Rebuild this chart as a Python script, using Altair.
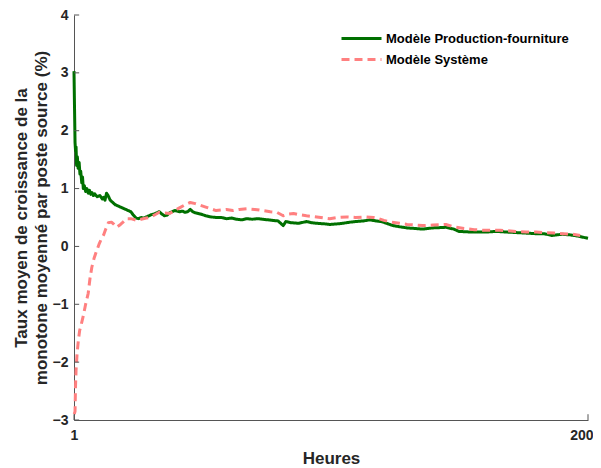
import altair as alt
import pandas as pd

series_names = ["Modèle Production-fourniture", "Modèle Système"]

green_x = [1, 1.2, 1.4, 1.6, 1.8, 2, 2.3, 2.6, 3, 3.3, 3.6, 4, 4.3, 4.6, 5, 5.5, 6, 6.5, 7, 7.5,
           8, 8.5, 9, 10, 11, 12, 12.5, 13, 13.6, 14.2, 15, 16, 17, 18, 19, 20, 21, 22, 23, 24,
           25, 26, 27, 28, 29, 30, 31, 32, 33, 34, 35, 36, 37, 38, 39, 40, 41, 42, 43, 44,
           45, 46, 47, 48, 50, 52, 54, 56, 58, 60, 62, 64, 66, 68, 70, 72, 74, 76, 78, 80,
           82, 83, 85, 88, 91, 93, 95, 98, 100, 103, 105, 108, 110, 113, 115.6, 118, 120, 122, 124.5, 127,
           130, 133, 136, 140, 145, 148, 150, 154, 157, 161, 164.6, 168, 172, 176, 180, 183, 186, 190, 193, 196,
           200]
green_y = [3.03, 2.4, 1.8, 1.65, 1.72, 1.4, 1.55, 1.35, 1.45, 1.25, 1.3, 1.1, 1.2, 1.0, 1.05, 0.95, 1.0, 0.92, 0.97, 0.9,
           0.93, 0.88, 0.91, 0.86, 0.88, 0.82, 0.85, 0.8, 0.92, 0.88, 0.8, 0.76, 0.72, 0.7, 0.68, 0.66, 0.64, 0.62, 0.6, 0.54,
           0.49, 0.48, 0.5, 0.49, 0.51, 0.53, 0.55, 0.56, 0.58, 0.6, 0.56, 0.53, 0.54, 0.58, 0.6, 0.62, 0.61, 0.6, 0.61, 0.59,
           0.6, 0.64, 0.6, 0.58, 0.56, 0.53, 0.51, 0.5, 0.5, 0.48, 0.49, 0.47, 0.46, 0.48, 0.47, 0.48, 0.47, 0.46, 0.45, 0.44,
           0.36, 0.43, 0.41, 0.4, 0.43, 0.41, 0.4, 0.39, 0.38, 0.39, 0.4, 0.42, 0.43, 0.44, 0.46, 0.44, 0.43, 0.4, 0.36, 0.34,
           0.32, 0.31, 0.3, 0.32, 0.33, 0.3, 0.26, 0.25, 0.25, 0.25, 0.26, 0.25, 0.24, 0.23, 0.22, 0.22, 0.19, 0.21, 0.2, 0.18,
           0.14]

pink_x = [1.1, 1.4, 1.6, 1.8, 2.2, 2.7, 3.2, 3.8, 4.6, 5.5, 6.5, 7.2, 7.9, 8.8, 9.8, 10.8, 11.7, 12.5, 13.3, 14.3,
          15.5, 16.5, 17.5, 19, 20, 21.4, 23, 25.3, 27, 29, 30, 32, 34, 36, 38, 40, 42, 44, 46, 48,
          50, 52, 54, 56, 58, 60, 62.5, 65, 68, 71, 74, 77, 79.5, 82, 84, 86, 88, 91, 93, 95,
          98, 100, 103, 106.6, 110, 114, 117, 119, 121, 124, 127, 130, 133, 136, 140, 145, 148, 152, 156, 159.6,
          163, 166, 169, 172, 176, 180, 183, 187, 190, 194, 197]
pink_y = [-2.9, -2.85, -2.4, -2.14, -1.85, -1.62, -1.45, -1.35, -1.2, -1.0, -0.81, -0.55, -0.36, -0.2, -0.07, 0.05, 0.14, 0.2, 0.3, 0.41,
          0.42, 0.38, 0.33, 0.38, 0.42, 0.48, 0.48, 0.45, 0.47, 0.49, 0.5, 0.54, 0.59, 0.58, 0.57, 0.62, 0.67, 0.72, 0.76, 0.74,
          0.71, 0.68, 0.65, 0.62, 0.63, 0.64, 0.62, 0.64, 0.65, 0.64, 0.62, 0.6, 0.59, 0.53, 0.56, 0.57, 0.55, 0.53, 0.52, 0.51,
          0.49, 0.48, 0.5, 0.51, 0.5, 0.51, 0.5, 0.48, 0.45, 0.42, 0.4, 0.38, 0.37, 0.36, 0.37, 0.38, 0.34, 0.31, 0.29, 0.28,
          0.28, 0.28, 0.27, 0.26, 0.25, 0.25, 0.24, 0.23, 0.22, 0.21, 0.19]

x_ticks = [1, 200]
y_ticks = [-3, -2, -1, 0, 1, 2, 3, 4]

df = pd.concat([
    pd.DataFrame({"h": green_x, "v": green_y, "s": series_names[0], "o": range(len(green_x))}),
    pd.DataFrame({"h": pink_x, "v": pink_y, "s": series_names[1], "o": range(len(pink_x))}),
])

FONT = "Liberation Sans"
AXC = "#555555"

xscale = alt.Scale(domain=[1, 200], nice=False, zero=False)
yscale = alt.Scale(domain=[-3, 4], nice=False)

lines = alt.Chart(df).mark_line(strokeWidth=3, strokeCap="butt", strokeJoin="round").encode(
    x=alt.X("h:Q", title="Heures", scale=xscale,
            axis=alt.Axis(values=x_ticks, grid=False, tickSize=0, labelPadding=8, format="d",
                          labelFlush=False,
                          labelAlign=alt.condition("datum.value == 200", alt.value("right"), alt.value("center")),
                          labelOffset=alt.condition("datum.value == 200", alt.value(5), alt.value(0)),
                          titlePadding=8)),
    y=alt.Y("v:Q", title=["Taux moyen de croissance de la", "monotone moyenné par poste source (%)"],
            scale=yscale,
            axis=alt.Axis(values=y_ticks, grid=False, tickSize=0, labelPadding=6, format="d",
                          titlePadding=2, titleLineHeight=20)),
    color=alt.Color("s:N", scale=alt.Scale(domain=series_names, range=["#007000", "#FF8080"]),
                    legend=alt.Legend(title=None, orient="none", legendX=266, legendY=17,
                                      symbolType="stroke", symbolSize=1600, symbolStrokeWidth=3,
                                      labelFont=FONT, labelFontSize=13, labelFontWeight="bold",
                                      labelColor="#000000", rowPadding=7, labelOffset=3,
                                      labelLimit=0, clipHeight=13)),
    strokeDash=alt.StrokeDash("s:N", scale=alt.Scale(domain=series_names, range=[[1, 0], [8, 5]]),
                              legend=None),
    order="o:Q",
)

# inward tick marks (MATLAB style), drawn at the axis tick values
ytick_df = pd.DataFrame({"v": y_ticks, "x0": [1] * len(y_ticks), "x1": [3.0] * len(y_ticks)})
xtick_df = pd.DataFrame({"h": x_ticks, "y0": [-3] * len(x_ticks), "y1": [-2.9] * len(x_ticks)})

yticks = alt.Chart(ytick_df).mark_rule(color=AXC, strokeWidth=1).encode(
    x=alt.X("x0:Q", scale=xscale), x2="x1:Q", y=alt.Y("v:Q", scale=yscale))
xticks = alt.Chart(xtick_df).mark_rule(color=AXC, strokeWidth=1).encode(
    x=alt.X("h:Q", scale=xscale), y=alt.Y("y0:Q", scale=yscale), y2="y1:Q")

chart = alt.layer(lines, yticks, xticks).properties(
    width=514, height=405,
    autosize=alt.AutoSizeParams(type="none"),
    padding={"left": 66, "top": 7, "right": 5, "bottom": 50},
).configure_view(stroke=None).configure_axis(
    labelFont=FONT, labelFontSize=14, labelFontWeight="bold", labelColor="#262626",
    titleFont=FONT, titleFontSize=17, titleFontWeight="bold", titleColor="#262626",
    domainColor=AXC, tickColor=AXC, domainWidth=1,
)

chart.save("out.html", embed_options={"renderer": "svg", "actions": False})
